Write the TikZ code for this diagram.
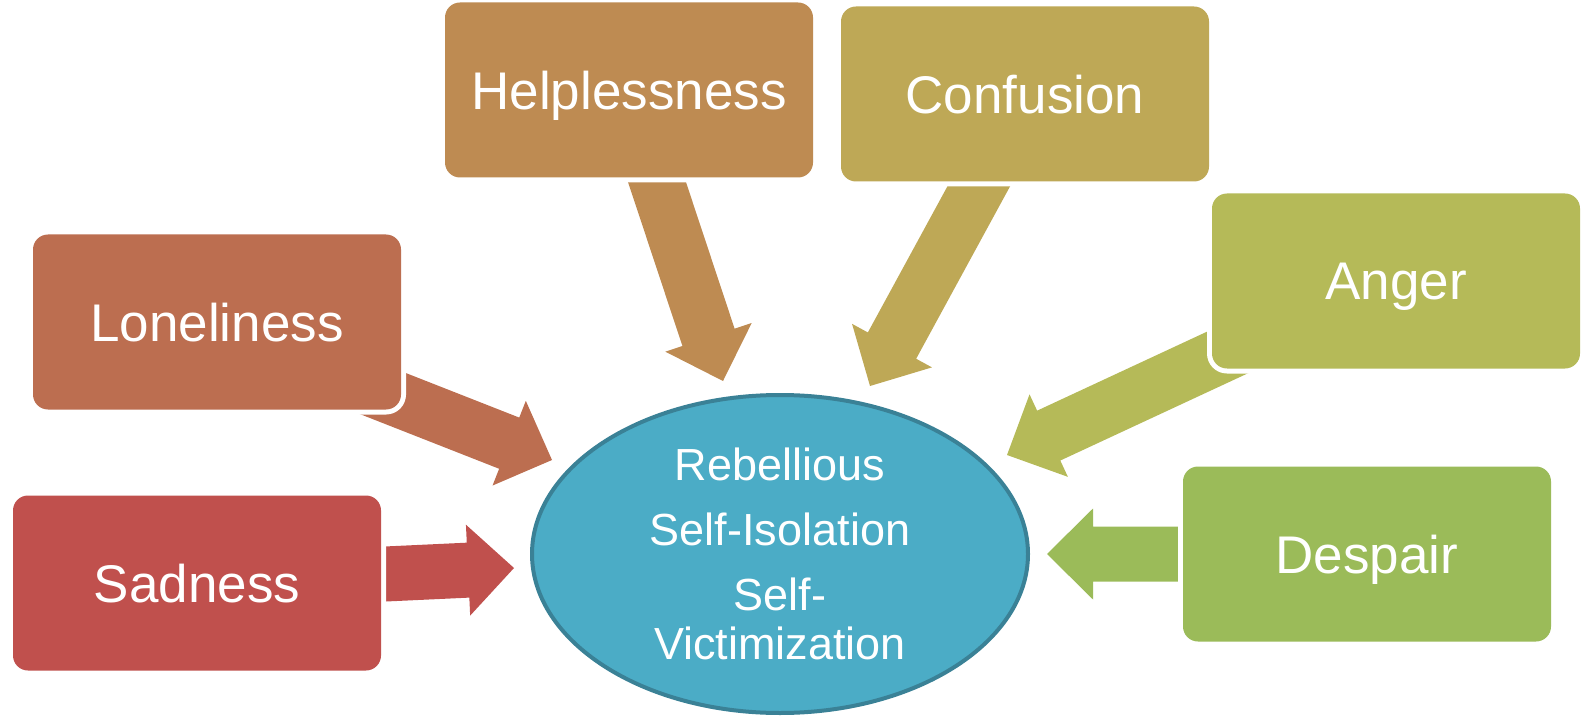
\documentclass[tikz,border=0pt]{standalone}
\usepackage{fontspec}
\setmainfont{Liberation Sans}
\usetikzlibrary{calc,shapes.geometric}

\definecolor{sadred}{HTML}{C0504D}
\definecolor{lonebrown}{HTML}{BC6E50}
\definecolor{helpochre}{HTML}{BE8B52}
\definecolor{confgold}{HTML}{BEA856}
\definecolor{angolive}{HTML}{B5BA58}
\definecolor{despgreen}{HTML}{9BBB59}
\definecolor{coreblue}{HTML}{4BACC6}
\definecolor{coreline}{HTML}{3A8196}

% block arrow from #2 (tail) to #3 (tip)
\newcommand{\blockarrow}[3]{%
  \path ($(#3)!46pt!(#2)$) coordinate (headbase);
  \fill[#1] ($(#2)!27.5pt!90:(#3)$) -- ($(headbase)!27.5pt!90:(#3)$)
    -- ($(headbase)!45.5pt!90:(#3)$) -- (#3)
    -- ($(headbase)!45.5pt!-90:(#3)$) -- ($(headbase)!27.5pt!-90:(#3)$)
    -- ($(#2)!27.5pt!-90:(#3)$) -- cycle;}

\tikzset{
  feeling/.style={rectangle, rounded corners=15pt, minimum width=368pt,
    minimum height=175pt, text=white, text depth=0pt,
    font=\fontsize{53}{60}\selectfont,
    preaction={draw=white, line width=10pt}},
  core/.style={ellipse, fill=coreblue, draw=coreline, line width=4pt,
    minimum width=496pt, minimum height=318pt, text=white, align=center,
    font=\fontsize{45}{49}\selectfont}
}

\begin{document}
\begin{tikzpicture}[x=1pt,y=-1pt]
\useasboundingbox (0,0) rectangle (1585,719);
%arrow ends
\coordinate (sad-tail) at (364,575);
\coordinate (sad-tip) at (514,568);
\coordinate (lon-tail) at (356,383);
\coordinate (lon-tip) at (552,460);
\coordinate (hel-tail) at (649,158);
\coordinate (hel-tip) at (723,381);
\coordinate (con-tail) at (992,162);
\coordinate (con-tip) at (870,386);
\coordinate (ang-tail) at (1250,342);
\coordinate (ang-tip) at (1007,455);
\coordinate (des-tail) at (1250,554);
\coordinate (des-tip) at (1047,554);
%arrows go under the boxes
\blockarrow{sadred}{sad-tail}{sad-tip}
\blockarrow{lonebrown}{lon-tail}{lon-tip}
\blockarrow{helpochre}{hel-tail}{hel-tip}
\blockarrow{confgold}{con-tail}{con-tip}
\blockarrow{angolive}{ang-tail}{ang-tip}
\blockarrow{despgreen}{des-tail}{des-tip}
%boxes
\node[feeling,fill=sadred] (sad) at (197,583) {Sadness};
\node[feeling,fill=lonebrown] (lon) at (217,322) {Loneliness};
\node[feeling,fill=helpochre] (hel) at (629,90) {Helplessness};
\node[feeling,fill=confgold] (con) at (1025,94) {Confusion};
\node[feeling,fill=angolive] (ang) at (1396,281) {Anger};
\node[feeling,fill=despgreen] (des) at (1367,554) {Despair};
\node[core] (res) at (780,554) {Rebellious\\[16pt] Self-Isolation\\[16pt] Self-\\ Victimization};
\end{tikzpicture}
\end{document}
